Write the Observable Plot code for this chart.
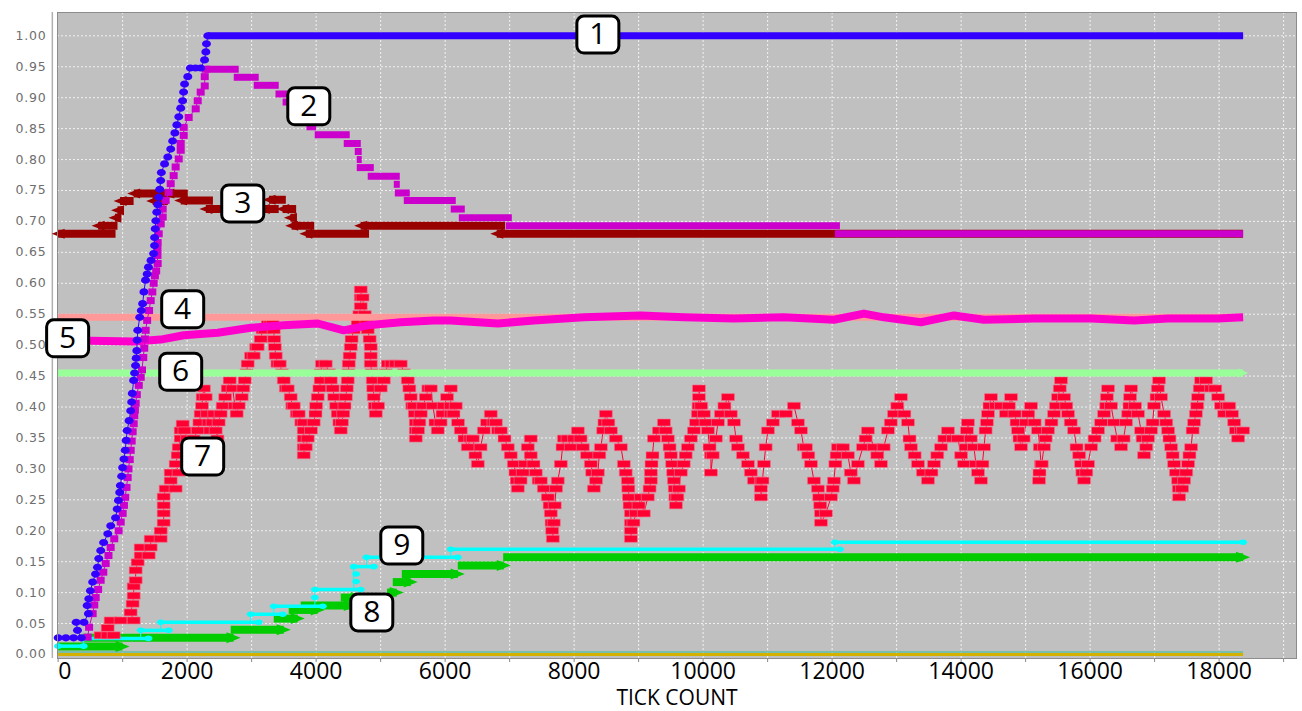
<!DOCTYPE html>
<html><head><meta charset="utf-8">
<script src="https://cdn.jsdelivr.net/npm/d3@7"></script>
<script src="https://cdn.jsdelivr.net/npm/@observablehq/plot@0.6"></script>
<style>
body{margin:0;background:#fff;}
#chart svg{display:block;}
g[aria-label="y-axis tick label"] text{letter-spacing:0.8px;}
</style></head><body><div id="chart"></div>
<script>
// ---------- data ----------
const xTicks = [0,1000,2000,3000,4000,5000,6000,7000,8000,9000,10000,11000,12000,13000,14000,15000,16000,17000,18000,19000];
const yTicks = [0,0.05,0.1,0.15,0.2,0.25,0.3,0.35,0.4,0.45,0.5,0.55,0.6,0.65,0.7,0.75,0.8,0.85,0.9,0.95,1.0];
const xAxisTitle = "TICK COUNT";

// series 1 (blue, circles): rising points [tick, value] then flat band [from, to, value]
const s1Points = [[0,0.027],[120,0.027],[240,0.027],[360,0.027],[300,0.039],[280,0.052],[400,0.052],[470,0.066],[450,0.079],[475,0.09],[500,0.103],[535,0.117],[580,0.13],[610,0.141],[630,0.155],[660,0.168],[705,0.181],[770,0.195],[815,0.208],[890,0.221],[915,0.235],[935,0.249],[955,0.262],[965,0.273],[985,0.288],[1000,0.302],[1020,0.316],[1040,0.33],[1055,0.346],[1070,0.362],[1100,0.378],[1125,0.394],[1140,0.408],[1150,0.422],[1170,0.443],[1185,0.455],[1200,0.467],[1210,0.479],[1220,0.491],[1225,0.508],[1235,0.524],[1265,0.545],[1290,0.556],[1310,0.567],[1330,0.586],[1355,0.605],[1380,0.615],[1400,0.626],[1440,0.637],[1480,0.648],[1495,0.661],[1495,0.674],[1505,0.688],[1515,0.701],[1530,0.715],[1545,0.727],[1560,0.739],[1575,0.752],[1590,0.766],[1600,0.779],[1650,0.793],[1700,0.804],[1745,0.817],[1775,0.83],[1810,0.843],[1840,0.856],[1870,0.869],[1900,0.883],[1930,0.895],[1945,0.909],[1960,0.922],[2010,0.934],[2050,0.948],[2130,0.948],[2210,0.948],[2270,0.961],[2290,0.974],[2300,0.987],[2320,1.0]];
const s1Bands = [[2320,18372,1.0]];

// series 2 (purple, squares)
const s2Points = [[458,0.028],[480,0.044],[535,0.066],[560,0.08],[582,0.092],[620,0.105],[659,0.12],[700,0.133],[737,0.147],[780,0.16],[814,0.173],[870,0.187],[938,0.2],[970,0.214],[1000,0.228],[1020,0.241],[1040,0.254],[1060,0.27],[1078,0.286],[1090,0.3],[1110,0.315],[1125,0.33],[1140,0.345],[1155,0.36],[1171,0.373],[1180,0.386],[1190,0.395],[1202,0.406],[1220,0.42],[1250,0.435],[1280,0.448],[1300,0.46],[1320,0.48],[1335,0.495],[1345,0.51],[1357,0.524],[1380,0.54],[1410,0.556],[1435,0.572],[1460,0.586],[1481,0.6],[1500,0.612],[1520,0.62],[1543,0.632],[1540,0.645],[1540,0.655],[1543,0.666],[1559,0.68],[1590,0.696],[1621,0.707],[1621,0.72],[1667,0.734],[1714,0.747],[1745,0.761],[1791,0.774],[1822,0.788],[1869,0.801],[1900,0.815],[1900,0.826],[1947,0.839],[1947,0.852],[2024,0.868],[2133,0.882],[2164,0.895],[2210,0.909],[2273,0.919],[2273,0.934],[2288,0.946]];
const s2Bands = [[2288,2800,0.946],[2723,3110,0.933],[3033,3420,0.92],[3370,3606,0.906],[3480,3700,0.893],[3600,3800,0.88],[3750,3900,0.867],[3850,4000,0.853],[3978,4521,0.84],[4428,4692,0.826],[4599,4707,0.813],[4630,4707,0.80],[4630,4894,0.787],[4800,5297,0.773],[5204,5297,0.76],[5220,5452,0.746],[5359,6165,0.734],[6087,6305,0.72],[6212,7034,0.706],[6941,12121,0.693],[12043,18372,0.68]];

// series 3 (dark red, left triangles)
const s3Bands = [[0,890,0.68],[620,920,0.693],[880,960,0.706],[920,1020,0.718],[960,1170,0.733],[1171,1698,0.745],[1465,1700,0.733],[1700,2010,0.745],[1900,2400,0.734],[2290,3180,0.72],[3180,3420,0.72],[3270,3530,0.735],[3480,3690,0.72],[3600,3700,0.706],[3620,3970,0.693],[3840,4820,0.68],[4690,6930,0.693],[6800,18372,0.68]];

// series 4 (salmon), series 6 (light green): flat
const s4Bands = [[0,18372,0.545]];
const s6Bands = [[0,18372,0.455]];

// series 5 (pink line)
const s5Points = [[0,0.507],[504,0.507],[1171,0.506],[1590,0.509],[1947,0.516],[2474,0.52],[2986,0.528],[3498,0.532],[4025,0.535],[4428,0.524],[4800,0.532],[5312,0.537],[5824,0.54],[6088,0.54],[6816,0.535],[7375,0.54],[8150,0.545],[9034,0.548],[9701,0.545],[10476,0.543],[11252,0.545],[12028,0.541],[12493,0.551],[12803,0.545],[13377,0.537],[13889,0.548],[14354,0.541],[15130,0.543],[16014,0.543],[16681,0.54],[17208,0.543],[17984,0.543],[18372,0.545]];

// series 7 (red, rectangles)
const s7Points = [[659,0.031],[768,0.031],[861,0.031],[768,0.043],[814,0.055],[969,0.055],[1171,0.055],[1124,0.068],[1155,0.082],[1171,0.095],[1171,0.11],[1202,0.12],[1202,0.136],[1233,0.149],[1280,0.16],[1404,0.16],[1280,0.173],[1435,0.173],[1435,0.187],[1590,0.187],[1590,0.2],[1636,0.213],[1636,0.228],[1636,0.241],[1636,0.255],[1667,0.268],[1822,0.268],[1745,0.281],[1745,0.294],[1869,0.294],[1822,0.308],[1853,0.322],[1869,0.335],[1900,0.349],[1900,0.362],[1931,0.373],
[1960,0.362],[2000,0.349],[2055,0.335],[2100,0.349],[2164,0.362],[2190,0.375],[2210,0.389],[2230,0.402],[2241,0.416],[2260,0.43],[2288,0.416],[2310,0.389],[2334,0.375],[2360,0.362],[2396,0.375],[2420,0.389],[2443,0.362],[2470,0.349],[2489,0.375],[2520,0.389],[2551,0.402],[2590,0.416],[2629,0.43],[2660,0.443],[2706,0.43],[2740,0.402],[2768,0.389],[2800,0.402],[2846,0.416],[2870,0.43],[2893,0.443],[2920,0.456],[2939,0.47],[2990,0.483],[3032,0.483],[3070,0.497],[3094,0.497],[3141,0.51],[3170,0.524],[3203,0.524],[3250,0.537],[3290,0.537],[3327,0.537],[3343,0.524],[3350,0.51],[3360,0.497],[3374,0.483],[3400,0.47],[3436,0.47],[3470,0.456],[3498,0.443],[3530,0.43],[3560,0.43],[3606,0.416],[3630,0.402],[3653,0.402],[3700,0.389],[3730,0.389],[3770,0.375],[3808,0.375],[3808,0.362],[3808,0.349],[3808,0.335],[3808,0.322],[3840,0.335],[3870,0.349],[3920,0.362],[3963,0.375],[3990,0.389],[4000,0.402],[4025,0.416],[4050,0.43],[4071,0.443],[4071,0.456],[4090,0.47],[4149,0.47],[4200,0.456],[4227,0.443],[4257,0.43],[4280,0.416],[4310,0.402],[4335,0.389],[4360,0.375],[4382,0.362],[4400,0.375],[4420,0.389],[4440,0.402],[4460,0.416],[4475,0.43],[4490,0.443],[4500,0.456],[4506,0.47],[4520,0.483],[4537,0.497],[4550,0.51],[4583,0.524],[4645,0.537],[4670,0.55],[4692,0.563],[4692,0.577],[4692,0.59],[4720,0.577],[4754,0.55],[4780,0.537],[4800,0.524],[4830,0.51],[4847,0.497],[4847,0.483],[4847,0.47],[4860,0.456],[4878,0.443],[4885,0.43],[4893,0.416],[4910,0.402],[4925,0.389],[4960,0.402],[5002,0.43],[5050,0.443],[5080,0.456],[5111,0.47],[5170,0.47],[5235,0.47],[5312,0.47],[5360,0.456],[5421,0.443],[5445,0.43],[5467,0.416],[5490,0.402],[5514,0.402],[5530,0.389],[5545,0.375],[5545,0.362],[5545,0.349],[5580,0.362],[5600,0.375],[5623,0.389],[5660,0.402],[5700,0.416],[5740,0.43],[5778,0.43],[5810,0.402],[5850,0.375],[5886,0.362],[5930,0.375],[5960,0.389],[5979,0.402],[6030,0.416],[6088,0.43],[6088,0.402],[6088,0.389],[6130,0.389],[6165,0.402],[6200,0.375],[6243,0.362],[6300,0.349],[6351,0.335],[6390,0.349],[6429,0.349],[6470,0.322],[6507,0.308],[6550,0.335],[6600,0.362],[6650,0.375],[6708,0.389],[6750,0.375],[6786,0.375],[6820,0.362],[6863,0.362],[6920,0.349],[6972,0.335],[7018,0.322],[7065,0.308],[7090,0.294],[7110,0.281],[7127,0.268],[7170,0.281],[7204,0.294],[7240,0.308],[7282,0.335],[7328,0.349],[7328,0.322],[7370,0.308],[7406,0.294],[7450,0.281],[7484,0.281],[7530,0.268],[7592,0.254],[7620,0.241],[7639,0.228],[7650,0.213],[7660,0.2],[7670,0.187],[7685,0.213],[7700,0.241],[7720,0.268],[7747,0.281],[7794,0.308],[7820,0.335],[7841,0.349],[7900,0.349],[7949,0.335],[8000,0.349],[8058,0.362],[8100,0.349],[8135,0.335],[8200,0.322],[8259,0.308],[8280,0.294],[8306,0.268],[8340,0.281],[8368,0.294],[8390,0.322],[8415,0.335],[8450,0.362],[8470,0.375],[8492,0.389],[8530,0.375],[8570,0.362],[8647,0.349],[8725,0.335],[8771,0.308],[8800,0.294],[8833,0.281],[8840,0.268],[8849,0.254],[8860,0.241],[8880,0.228],[8880,0.213],[8880,0.2],[8880,0.187],[8920,0.213],[8958,0.228],[9000,0.241],[9035,0.254],[9081,0.228],[9143,0.254],[9170,0.268],[9190,0.281],[9190,0.294],[9200,0.308],[9215,0.322],[9237,0.349],[9314,0.362],[9392,0.375],[9420,0.362],[9454,0.349],[9480,0.335],[9500,0.322],[9520,0.308],[9535,0.294],[9547,0.281],[9560,0.268],[9570,0.254],[9578,0.241],[9600,0.254],[9625,0.268],[9655,0.294],[9700,0.308],[9730,0.322],[9764,0.335],[9810,0.349],[9857,0.362],[9890,0.375],[9919,0.389],[9930,0.402],[9935,0.416],[9935,0.43],[9970,0.402],[10012,0.389],[10040,0.375],[10074,0.362],[10100,0.335],[10121,0.322],[10121,0.294],[10150,0.322],[10198,0.349],[10230,0.375],[10276,0.389],[10330,0.402],[10385,0.416],[10430,0.389],[10478,0.375],[10510,0.349],[10540,0.335],[10617,0.322],[10695,0.308],[10740,0.294],[10788,0.281],[10896,0.281],[10896,0.268],[10896,0.254],[10920,0.281],[10943,0.308],[10970,0.335],[11005,0.362],[11082,0.375],[11160,0.389],[11284,0.389],[11408,0.402],[11470,0.375],[11517,0.362],[11560,0.335],[11594,0.335],[11630,0.322],[11672,0.308],[11718,0.281],[11780,0.268],[11800,0.254],[11815,0.241],[11827,0.228],[11827,0.213],[11904,0.228],[11982,0.254],[12010,0.268],[12028,0.281],[12050,0.308],[12070,0.322],[12090,0.335],[12168,0.335],[12245,0.322],[12290,0.294],[12338,0.281],[12400,0.308],[12478,0.335],[12520,0.349],[12555,0.362],[12648,0.335],[12700,0.322],[12757,0.308],[12800,0.335],[12866,0.362],[12910,0.375],[12959,0.389],[13010,0.402],[13067,0.416],[13120,0.389],[13176,0.375],[13200,0.349],[13222,0.335],[13280,0.322],[13331,0.308],[13408,0.294],[13486,0.281],[13540,0.294],[13579,0.308],[13630,0.322],[13688,0.335],[13740,0.349],[13796,0.362],[13874,0.349],[13951,0.349],[14000,0.322],[14044,0.308],[14070,0.335],[14090,0.362],[14106,0.375],[14150,0.349],[14199,0.335],[14230,0.308],[14262,0.294],[14308,0.281],[14330,0.308],[14355,0.335],[14380,0.362],[14400,0.375],[14417,0.389],[14440,0.402],[14463,0.416],[14541,0.402],[14618,0.402],[14696,0.389],[14740,0.402],[14774,0.416],[14830,0.389],[14860,0.375],[14882,0.362],[14905,0.349],[14929,0.335],[14970,0.349],[15006,0.375],[15040,0.389],[15084,0.402],[15140,0.375],[15192,0.362],[15220,0.335],[15239,0.308],[15215,0.294],[15208,0.281],[15250,0.308],[15285,0.335],[15310,0.349],[15347,0.362],[15400,0.375],[15440,0.389],[15470,0.402],[15502,0.416],[15530,0.43],[15549,0.443],[15596,0.416],[15630,0.402],[15658,0.389],[15700,0.375],[15751,0.362],[15790,0.335],[15830,0.322],[15859,0.308],[15880,0.294],[15906,0.281],[15940,0.294],[15968,0.308],[16015,0.335],[16070,0.349],[16123,0.362],[16170,0.375],[16216,0.389],[16250,0.402],[16260,0.416],[16278,0.43],[16325,0.402],[16371,0.375],[16420,0.349],[16480,0.335],[16520,0.349],[16557,0.375],[16590,0.389],[16610,0.402],[16620,0.416],[16635,0.43],[16697,0.402],[16743,0.389],[16790,0.362],[16815,0.349],[16836,0.322],[16870,0.335],[16898,0.349],[16945,0.362],[16970,0.375],[16991,0.402],[17030,0.416],[17050,0.43],[17069,0.443],[17100,0.416],[17147,0.389],[17180,0.375],[17209,0.362],[17230,0.349],[17256,0.335],[17280,0.322],[17302,0.308],[17330,0.294],[17364,0.281],[17375,0.268],[17380,0.254],[17426,0.268],[17457,0.281],[17490,0.294],[17519,0.308],[17540,0.322],[17566,0.335],[17590,0.362],[17612,0.375],[17640,0.389],[17660,0.402],[17674,0.416],[17700,0.43],[17721,0.443],[17798,0.443],[17876,0.43],[17940,0.43],[17985,0.416],[18030,0.402],[18078,0.389],[18120,0.402],[18156,0.402],[18200,0.389],[18233,0.375],[18260,0.362],[18295,0.349],[18340,0.362],[18372,0.362]];

// series 8 (green, right triangles)
const s8Bands = [[0,1000,0.013],[380,2720,0.027],[2676,3498,0.04],[3343,3715,0.058],[3575,4025,0.072],[3761,4537,0.079],[4382,4645,0.092],[5100,5250,0.1],[5188,5467,0.117],[5328,6196,0.13],[6196,6910,0.144],[6900,18372,0.157]];

// series 9 (cyan, small ovals)
const s9Bands = [[0,395,0.0135],[395,1400,0.026],[1280,1714,0.039],[1590,3110,0.052],[2985,3482,0.065],[3343,4103,0.078],[3980,4692,0.105],[4583,4894,0.142],[4780,6196,0.157],[6088,12121,0.17],[12043,18372,0.1815]];
const s9Extra = [[3980,0.092],[4620,0.118],[4620,0.13]];

// baseline series
const s10Bands = [[0,18372,0.0]];
const s11Bands = [[0,18372,0.004]];

// number tags
const tagText = ["1","2","3","4","5","6","7","8","9"];
const tagX = [8368,3886,2862,1931,147,1900,2241,4863,5328];
const tagY = [1.002,0.886,0.729,0.558,0.511,0.457,0.32,0.068,0.176];

const colors = {s1:"#3300ff", s2:"#cc00cc", s3:"#990000", s4:"#ff9999", s5:"#ff00cc", s6:"#99ff99", s7:"#ff0033", s8:"#00cc00", s9:"#00ffff", s10:"#d4b000", s11:"#33bb99"};

// ---------- custom symbols ----------
function ell(rx, ry){ const k=0.5523; return {draw(c){ c.moveTo(rx,0); c.bezierCurveTo(rx,ry*k,rx*k,ry,0,ry); c.bezierCurveTo(-rx*k,ry,-rx,ry*k,-rx,0); c.bezierCurveTo(-rx,-ry*k,-rx*k,-ry,0,-ry); c.bezierCurveTo(rx*k,-ry,rx,-ry*k,rx,0); c.closePath(); }}; }
function box(w,h){ return {draw(c){ c.rect(-w/2,-h/2,w,h); }}; }
function triL(w,h){ return {draw(c){ c.moveTo(-w/2,0); c.lineTo(w/2,-h/2); c.lineTo(w/2,h/2); c.closePath(); }}; }
function triR(w,h){ return {draw(c){ c.moveTo(w/2,0); c.lineTo(-w/2,-h/2); c.lineTo(-w/2,h/2); c.closePath(); }}; }
function rbox(w,h,r){ return {draw(c){ const x0=-w/2,x1=w/2,y0=-h/2,y1=h/2; c.moveTo(x0+r,y0); c.lineTo(x1-r,y0); c.arcTo(x1,y0,x1,y0+r,r); c.lineTo(x1,y1-r); c.arcTo(x1,y1,x1-r,y1,r); c.lineTo(x0+r,y1); c.arcTo(x0,y1,x0,y1-r,r); c.lineTo(x0,y0+r); c.arcTo(x0,y0,x0+r,y0,r); c.closePath(); }}; }

const band = (data, stroke, w) => Plot.link(data, {x1: d=>d[0], x2: d=>d[1], y1: d=>d[2], y2: d=>d[2], stroke, strokeWidth: w, strokeLinecap: "butt"});
const px = d=>d[0], py = d=>d[1];

const s9Conn = s9Bands.slice(1).map((b,i)=>[b[0], s9Bands[i][2], b[2]]);
const s9Ends = s9Bands.flatMap(b=>[[b[0],b[2]],[b[1],b[2]]]).concat(s9Extra);
const tags = tagText.map((t,i)=>({t, x: tagX[i], y: tagY[i]}));

const chart = Plot.plot({
  width: 1302, height: 711,
  marginLeft: 57, marginRight: 6, marginTop: 12, marginBottom: 53,
  x: {domain: [-10, 19200]},
  y: {domain: [-0.0065, 1.0377]},
  style: {background: "white", fontFamily: "Open Sans"},
  marks: [
    Plot.frame({fill: "#c0c0c0"}),
    Plot.gridX(xTicks.slice(1), {stroke: "#f2f2f2", strokeOpacity: 1, strokeDasharray: "2,2"}),
    Plot.gridY(yTicks.slice(1), {stroke: "#f2f2f2", strokeOpacity: 1, strokeDasharray: "2,2"}),
    Plot.ruleX([-90], {stroke: "#b0b0b0", strokeWidth: 1.5}),
    Plot.axisY(yTicks, {tickSize: 0, tickPadding: 11, tickFormat: d3.format(".2f"), fontSize: 12.5, fontFamily: "DejaVu Sans", fill: "#6e6e6e", label: null}),
    Plot.axisX(xTicks, {tickSize: 4, tickPadding: 0, tickFormat: d => (d > 0 && d % 2000 === 0) ? String(d) : "", fontSize: 23, fontFamily: "Open Sans", fill: "#000", stroke: "#888", label: null}),
    Plot.axisX([0], {tickSize: 0, tickPadding: 4, textAnchor: "start", tickFormat: d => String(d), fontSize: 23, fontFamily: "Open Sans", fill: "#000", label: null}),
    Plot.text([xAxisTitle], {frameAnchor: "bottom", lineAnchor: "middle", dy: 40, fontSize: 21, fontFamily: "Open Sans", fill: "#000"}),

    band(s10Bands, colors.s10, 3),
    band(s11Bands, colors.s11, 1),
    band(s8Bands, colors.s8, 8),
    Plot.dot(s8Bands, {x: d=>d[1], y: d=>d[2], symbol: triR(14,11), fill: colors.s8, stroke: "none"}),
    band(s9Bands, colors.s9, 3.5),
    Plot.link(s9Conn, {x1: d=>d[0], x2: d=>d[0], y1: d=>d[1], y2: d=>d[2], stroke: colors.s9, strokeWidth: 1}),
    Plot.dot(s9Ends, {x: px, y: py, symbol: ell(4,2.8), fill: colors.s9, stroke: "none"}),
    Plot.line(s7Points, {x: px, y: py, stroke: colors.s7, strokeWidth: 1}),
    Plot.dot(s7Points, {x: px, y: py, symbol: box(13,7), fill: colors.s7, stroke: "#f07890", strokeWidth: 0.6}),
    band(s6Bands, colors.s6, 7),
    Plot.dot([s6Bands[0]], {x: d=>d[1], y: d=>d[2], symbol: triR(10,9), fill: colors.s6, stroke: "none"}),
    band(s4Bands, colors.s4, 7),
    Plot.line(s5Points, {x: px, y: py, stroke: colors.s5, strokeWidth: 8, strokeLinecap: "butt"}),
    band(s3Bands, colors.s3, 8),
    Plot.dot(s3Bands, {x: d=>d[0], y: d=>d[2], symbol: triL(13,10), fill: colors.s3, stroke: "none"}),
    band(s2Bands, colors.s2, 7),
    Plot.line(s2Points, {x: px, y: py, stroke: colors.s2, strokeWidth: 1}),
    Plot.dot(s2Points, {x: px, y: py, symbol: box(8,7), fill: colors.s2, stroke: "none"}),
    band(s1Bands, colors.s1, 7),
    Plot.line(s1Points, {x: px, y: py, stroke: colors.s1, strokeWidth: 1}),
    Plot.dot(s1Points, {x: px, y: py, symbol: ell(4.5,3.6), fill: colors.s1, stroke: "none"}),

    Plot.frame({stroke: "#8c8c8c"}),

    Plot.dot(tags, {x: "x", y: "y", symbol: rbox(42,37,7), fill: "white", stroke: "black", strokeWidth: 3}),
    Plot.text(tags, {x: "x", y: "y", text: "t", fontSize: 30, fontFamily: "Open Sans", fill: "black"})
  ]
});
document.getElementById("chart").appendChild(chart);
</script></body></html>
